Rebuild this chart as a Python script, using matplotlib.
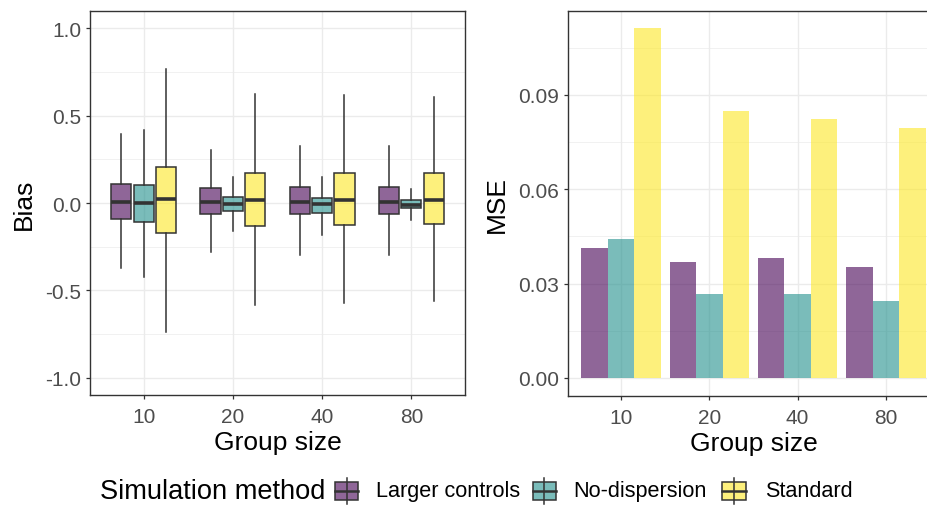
import matplotlib
matplotlib.use("Agg")
import matplotlib.pyplot as plt
from matplotlib.patches import Rectangle
from matplotlib.lines import Line2D
from matplotlib.ticker import FixedLocator

plt.rcParams['font.family'] = ['Liberation Sans', 'DejaVu Sans']

# ---------------- data ----------------
groups = ["10", "20", "40", "80"]
methods = ["Larger controls", "No-dispersion", "Standard"]
colors = ["#440154", "#21908C", "#FDE725"]

# Bias box statistics per method (one value per group)
bias_whislo = {
    "Larger controls": [-0.374, -0.281, -0.300, -0.296],
    "No-dispersion":   [-0.426, -0.158, -0.185, -0.095],
    "Standard":        [-0.737, -0.582, -0.571, -0.563],
}
bias_q1 = {
    "Larger controls": [-0.090, -0.063, -0.065, -0.065],
    "No-dispersion":   [-0.111, -0.044, -0.059, -0.029],
    "Standard":        [-0.170, -0.130, -0.124, -0.122],
}
bias_med = {
    "Larger controls": [0.004, 0.004, 0.004, 0.008],
    "No-dispersion":   [-0.002, -0.006, -0.008, -0.011],
    "Standard":        [0.023, 0.017, 0.015, 0.019],
}
bias_q3 = {
    "Larger controls": [0.109, 0.084, 0.090, 0.094],
    "No-dispersion":   [0.103, 0.036, 0.027, 0.017],
    "Standard":        [0.204, 0.172, 0.174, 0.172],
}
bias_whishi = {
    "Larger controls": [0.395, 0.302, 0.325, 0.325],
    "No-dispersion":   [0.418, 0.147, 0.151, 0.080],
    "Standard":        [0.767, 0.626, 0.620, 0.609],
}

mse = {
    "Larger controls": [0.0414, 0.0368, 0.0382, 0.0353],
    "No-dispersion":   [0.0442, 0.0267, 0.0266, 0.0245],
    "Standard":        [0.1113, 0.0849, 0.0825, 0.0795],
}

bias_ticks = [-1.0, -0.5, 0.0, 0.5, 1.0]
bias_ticklabels = ["-1.0", "-0.5", "0.0", "0.5", "1.0"]
mse_ticks = [0.00, 0.03, 0.06, 0.09]
mse_ticklabels = ["0.00", "0.03", "0.06", "0.09"]

# ---------------- figure ----------------
W, H = 928, 506
DPI = 100
fig = plt.figure(figsize=(W / DPI, H / DPI), dpi=DPI)

def ax_rect(x0, y0, x1, y1):
    return [x0 / W, 1 - y1 / H, (x1 - x0) / W, (y1 - y0) / H]

ax1 = fig.add_axes(ax_rect(90, 12, 465, 396))
ax2 = fig.add_axes(ax_rect(568, 11.7, 939, 396.7))

GRID = "#EBEBEB"
EDGE = "#333333"
TICKC = "#4D4D4D"
ALPHA = 0.6
TICKFS = 15
TITLEFS = 19

def style(ax):
    ax.set_facecolor("white")
    for s in ax.spines.values():
        s.set_color(EDGE)
        s.set_linewidth(1.0)
    ax.tick_params(axis="both", which="major", direction="out", length=3.2,
                   width=0.9, color=EDGE, labelcolor=TICKC, labelsize=TICKFS, pad=3)
    ax.tick_params(axis="x", which="major", pad=5.5)
    ax.tick_params(axis="both", which="minor", length=0)
    ax.grid(True, which="major", color=GRID, linewidth=1.0, zorder=0)
    ax.grid(True, which="minor", axis="y", color=GRID, linewidth=0.5, zorder=0)
    ax.set_axisbelow(True)

xpos = list(range(1, len(groups) + 1))
offsets = [-0.25, 0.0, 0.25]

# ---- left: boxplots ----
for m, off, col in zip(methods, offsets, colors):
    stats = []
    for i in range(len(groups)):
        stats.append(dict(whislo=bias_whislo[m][i], q1=bias_q1[m][i],
                          med=bias_med[m][i], q3=bias_q3[m][i],
                          whishi=bias_whishi[m][i], fliers=[]))
    ax1.bxp(stats, positions=[p + off for p in xpos], widths=0.225,
            patch_artist=True, showcaps=False, showfliers=False,
            boxprops=dict(facecolor=matplotlib.colors.to_rgba(col, ALPHA),
                          edgecolor=EDGE, linewidth=1.1),
            medianprops=dict(color=EDGE, linewidth=2.6, solid_capstyle="butt"),
            whiskerprops=dict(color=EDGE, linewidth=1.1),
            manage_ticks=False, zorder=3)

ax1.set_xlim(0.4, 4.6)
ax1.set_ylim(-1.1, 1.1)
ax1.set_xticks(xpos)
ax1.set_xticklabels(groups)
ax1.set_yticks(bias_ticks)
ax1.set_yticklabels(bias_ticklabels)
ax1.yaxis.set_minor_locator(FixedLocator([-0.75, -0.25, 0.25, 0.75]))
style(ax1)
ax1.set_xlabel("Group size", fontsize=TITLEFS, labelpad=3)
ax1.set_ylabel("Bias", fontsize=TITLEFS, labelpad=7)

# ---- right: bars ----
bar_offsets = [-0.3, 0.0, 0.3]
for m, off, col in zip(methods, bar_offsets, colors):
    ax2.bar([p + off for p in xpos], mse[m], width=0.3, color=col, alpha=ALPHA,
            linewidth=0, zorder=3)
ax2.set_xlim(0.4, 4.6)
ax2.set_ylim(-0.00563, 0.1168)
ax2.set_xticks(xpos)
ax2.set_xticklabels(groups)
ax2.set_yticks(mse_ticks)
ax2.set_yticklabels(mse_ticklabels)
ax2.yaxis.set_minor_locator(FixedLocator([0.015, 0.045, 0.075, 0.105]))
style(ax2)
ax2.set_xlabel("Group size", fontsize=TITLEFS, labelpad=3)
ax2.set_ylabel("MSE", fontsize=TITLEFS, labelpad=7)

# ---- legend (bottom) ----
def fx(x):
    return x / W

def fy(y):
    return 1 - y / H

yc = 492
fig.text(fx(100), fy(yc), "Simulation method", fontsize=19.6, ha="left",
         va="center", color="black")
key_x = [335, 532.7, 722.3]
text_x = [375.5, 573, 765]
bw, bh = 23.3, 17.7
for m, col, kx, tx in zip(methods, colors, key_x, text_x):
    fig.add_artist(Line2D([fx(kx + bw / 2)] * 2, [fy(479.3), fy(505.3)],
                          transform=fig.transFigure, color=EDGE, linewidth=1.1))
    fig.add_artist(Rectangle((fx(kx), fy(yc + bh / 2)), bw / W, bh / H,
                             transform=fig.transFigure,
                             facecolor=matplotlib.colors.to_rgba(col, ALPHA),
                             edgecolor=EDGE, linewidth=1.1))
    fig.add_artist(Line2D([fx(kx), fx(kx + bw)], [fy(yc)] * 2,
                          transform=fig.transFigure, color=EDGE, linewidth=1.8))
    fig.text(fx(tx), fy(yc), m, fontsize=15.6, ha="left", va="center",
             color="black")

fig.savefig("out.png", dpi=DPI)
